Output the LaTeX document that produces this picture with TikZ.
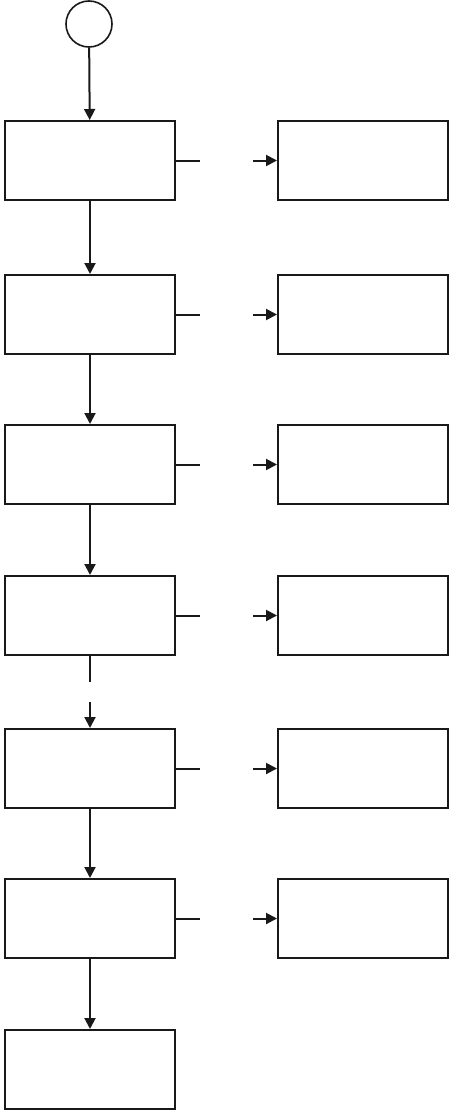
\documentclass[tikz,border=0pt]{standalone}
\usetikzlibrary{arrows.meta}
\begin{document}
\begin{tikzpicture}[x=1pt,y=-1pt,
  box/.style={draw=black!90,line width=2pt,minimum width=170pt,minimum height=79pt,inner sep=0pt,anchor=north west},
  startc/.style={draw=black!90,line width=1.6pt,circle,minimum size=46pt,inner sep=0pt},
  conn/.style={line width=2pt,draw=black!90},
  arr/.style={conn,-{Triangle[length=11pt,width=11pt]}}]
\useasboundingbox (0,0) rectangle (450,1111);
\node[startc] (s) at (89,24) {};
\node[box] (L1) at (4,120) {};
\node[box] (L2) at (4,274) {};
\node[box] (L3) at (4,424) {};
\node[box] (L4) at (4,575) {};
\node[box] (L5) at (4,728) {};
\node[box] (L6) at (4,878) {};
\node[box] (L7) at (4,1029) {};
\foreach \i/\y in {1/120,2/274,3/424,4/575,5/728,6/878}{
  \node[box] (R\i) at (277,\y) {};
  \coordinate (a\i) at ([xshift=24pt]L\i.east);
  \coordinate (b\i) at ([xshift=-24pt]R\i.west);
  \draw[conn] (L\i.east) -- (a\i);
  \draw[arr] (b\i) -- (R\i.west);
}
\draw[arr] (s) -- (L1);
\draw[arr] (L1) -- (L2);
\draw[arr] (L2) -- (L3);
\draw[arr] (L3) -- (L4);
\coordinate (m1) at ([yshift=-26pt]L4.south);
\coordinate (m2) at ([yshift=26pt]L5.north);
\draw[conn] (L4) -- (m1);
\draw[arr] (m2) -- (L5);
\draw[arr] (L5) -- (L6);
\draw[arr] (L6) -- (L7);
\end{tikzpicture}
\end{document}
